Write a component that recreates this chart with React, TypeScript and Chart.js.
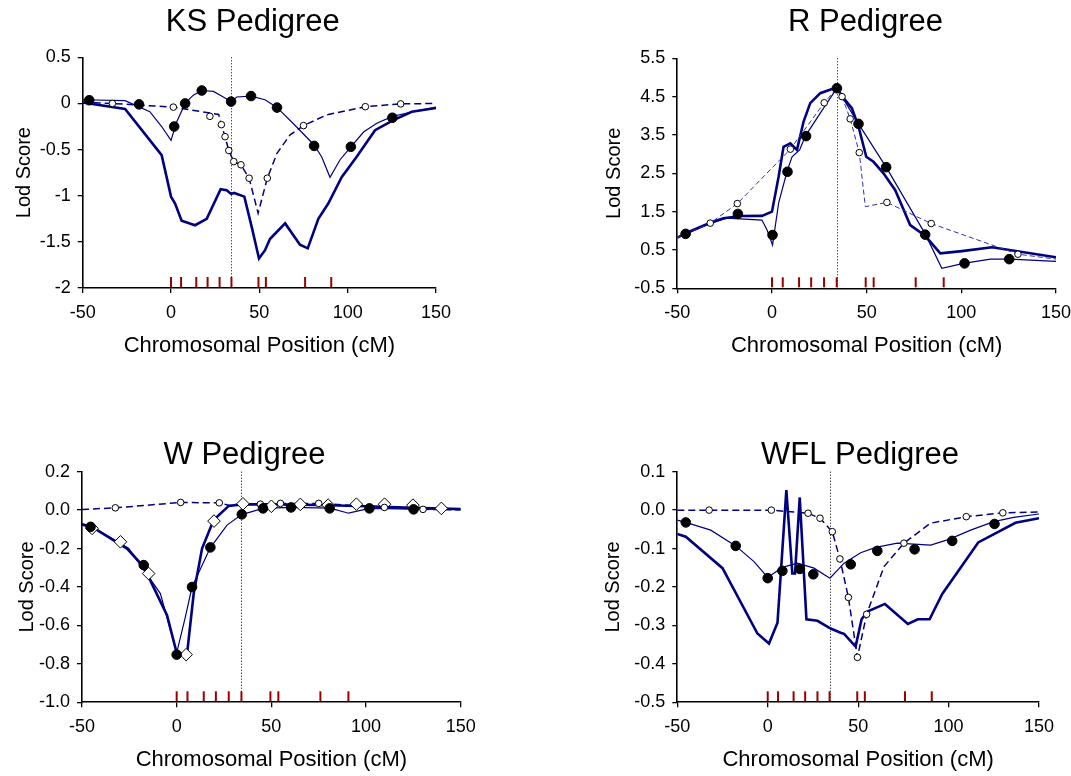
import React, { useEffect, useRef } from "react";
import { Chart, registerables } from "chart.js";

Chart.register(...registerables);

const FONT = "'Liberation Sans', Arial, Helvetica, sans-serif";
const NAVY = "#000080";

// ---------- shared ----------
const markerPositions = [0, 5.7, 14.3, 20.7, 27.5, 34.2, 49.5, 53.7, 75.9, 90.7];
const peakPosition = 34.2;

// ---------- KS pedigree ----------
const ksThickPos = [-50, -26, -5.3, 0, 2.3, 6, 13.6, 20.2, 28.1, 31.5, 34, 35.7, 41.5, 45.7, 49.8, 53.2, 56, 64.6, 73, 77.4, 83.4, 89, 96.6, 105, 115.5, 125.9, 136.3, 150];
const ksThickLod = [0.01, -0.06, -0.56, -1.01, -1.085, -1.27, -1.32, -1.25, -0.93, -0.94, -0.98, -0.97, -1.01, -1.34, -1.68, -1.59, -1.47, -1.3, -1.53, -1.57, -1.25, -1.085, -0.8, -0.58, -0.29, -0.18, -0.09, -0.05];
const ksThinPos = [-50, -26, -12, -5.3, 0, 3.2, 8, 12.6, 17.4, 24, 29.6, 34, 37.2, 45.3, 53.2, 59.8, 69.3, 81, 85.3, 90, 95.7, 101.8, 109, 116.5, 125.3, 137, 150];
const ksThinLod = [0.04, 0.03, -0.09, -0.25, -0.4, -0.2, 0.0, 0.09, 0.14, 0.13, 0.07, 0.02, 0.07, 0.08, 0.04, -0.04, -0.22, -0.45, -0.58, -0.8, -0.61, -0.47, -0.31, -0.215, -0.14, -0.09, -0.04];
const ksFilledPos = [-46.3, -18.1, 1.8, 8, 17.4, 34, 45.3, 60, 81, 101.8, 125.3];
const ksFilledLod = [0.035, -0.01, -0.25, 0.0, 0.14, 0.02, 0.08, -0.045, -0.46, -0.47, -0.155];
const ksOpenPos = [-33.2, 1.3, 22, 28.5, 30.6, 32.7, 35.5, 39.6, 44.2, 54.5, 75, 110, 130];
const ksOpenLod = [0, -0.04, -0.14, -0.23, -0.36, -0.51, -0.63, -0.665, -0.81, -0.81, -0.24, -0.035, -0.005];
const ksDashPos = [-50, -33.2, 1.3, 27, 28.5, 30.6, 32.7, 35.5, 39.6, 44.2, 49.3, 54.5, 60, 67.4, 75, 88, 110, 130, 150];
const ksDashLod = [0.01, 0, -0.04, -0.12, -0.23, -0.36, -0.51, -0.63, -0.665, -0.81, -1.19, -0.81, -0.54, -0.34, -0.24, -0.125, -0.035, -0.005, 0];

// ---------- R pedigree ----------
const rThickPos = [-50, -45.6, -32.6, -25.6, -16.7, -5.3, 0, 3.5, 6.1, 9.7, 13.2, 16.7, 20.2, 25.5, 31.7, 34.3, 37.8, 42.2, 45.7, 49.8, 53.6, 58.9, 65.1, 73, 80.9, 88.9, 100.3, 116.2, 150];
const rThickLod = [0.82, 0.935, 1.21, 1.33, 1.386, 1.39, 1.5, 2.41, 3.19, 3.28, 3.11, 3.85, 4.33, 4.59, 4.7, 4.72, 4.46, 4.2, 3.72, 2.93, 2.8, 2.5, 2.06, 1.15, 0.87, 0.41, 0.47, 0.57, 0.31];
const rThinPos = [-50, -32.6, -23.8, -5.3, -2.6, 0.3, 3.5, 7.9, 10.6, 14.6, 17.6, 25.5, 34.3, 45.7, 60.3, 80.9, 89.7, 101.2, 115.3, 125.8, 150];
const rThinLod = [0.82, 1.19, 1.33, 1.28, 1.02, 0.63, 1.72, 2.54, 2.93, 3.11, 3.47, 4.07, 4.72, 3.79, 2.66, 0.92, 0.02, 0.15, 0.26, 0.26, 0.2];
const rFilledPos = [-45.6, -18, 0.3, 8.2, 18, 34.3, 45.7, 60.3, 80.9, 101.7, 125.3];
const rFilledLod = [0.92, 1.44, 0.89, 2.54, 3.47, 4.72, 3.79, 2.66, 0.9, 0.15, 0.26];
const rOpenPos = [-32.6, -18.3, 9.7, 27.6, 37, 41.3, 46.1, 60.7, 84.1, 129.9];
const rOpenLod = [1.2, 1.71, 3.13, 4.34, 4.5, 3.92, 3.04, 1.74, 1.19, 0.39];
const rDashPos = [-50, -32.6, -18.3, 9.7, 27.6, 34.3, 37, 41.3, 46.1, 49.3, 60.7, 84.1, 129.9, 150];
const rDashLod = [0.82, 1.2, 1.71, 3.13, 4.34, 4.72, 4.5, 3.92, 3.04, 1.63, 1.74, 1.19, 0.39, 0.26];

// ---------- W pedigree ----------
const wThickPos = [-50, -44.7, -26.2, -17.4, -5.1, 0, 2, 5.5, 9, 13.4, 19.5, 27.5, 34.3, 50, 75, 100, 125, 150];
const wThickLod = [-0.075, -0.087, -0.2, -0.295, -0.547, -0.743, -0.746, -0.746, -0.434, -0.2, -0.052, 0.022, 0.03, 0.03, 0.027, 0.02, 0.012, 0.005];
const wThinPos = [-50, -44.7, -25.3, -8.6, 0, 4.6, 8.1, 17.8, 26.6, 34.3, 45.6, 60.4, 81, 90.8, 101.7, 125, 150];
const wThinLod = [-0.07, -0.085, -0.2, -0.434, -0.743, -0.556, -0.4, -0.195, -0.078, -0.023, 0.009, 0.014, 0.01, -0.016, 0.009, 0.005, 0.005];
const wFilledPos = [-45.5, -17.4, 0, 8.1, 17.8, 34.4, 45.6, 60.4, 80.8, 101.8, 125.1];
const wFilledLod = [-0.087, -0.286, -0.752, -0.4, -0.194, -0.022, 0.009, 0.014, 0.009, 0.009, 0.004];
const wDiamondPos = [-44.7, -29.7, -14.8, 5, 19.7, 35, 50, 65.3, 80, 94.9, 109.8, 124.8, 139.8];
const wDiamondLod = [-0.095, -0.165, -0.33, -0.752, -0.057, 0.033, 0.02, 0.03, 0.026, 0.031, 0.031, 0.026, 0.009];
const wOpenPos = [-32.4, 2.1, 22.5, 44.2, 54.8, 75, 109.7, 130.1];
const wOpenLod = [0.012, 0.04, 0.038, 0.031, 0.035, 0.035, 0.014, 0.004];
const wDashPos = [-50, -32.4, 2.1, 22.5, 28, 34.3, 44.2, 54.8, 75, 109.7, 130.1, 150];
const wDashLod = [0.003, 0.012, 0.04, 0.038, 0.024, 0.033, 0.031, 0.035, 0.035, 0.014, 0.004, 0.002];

// ---------- WFL pedigree ----------
const wflThickPos = [-50, -45.3, -25, -5.7, 0.7, 5.4, 10.3, 13.6, 15.1, 17.7, 21.4, 27.5, 34.8, 40.3, 42.2, 48.6, 51.9, 55.1, 64.8, 77.5, 83, 89.5, 96.5, 116.4, 137, 150];
const wflThickLod = [-0.062, -0.069, -0.151, -0.321, -0.347, -0.293, 0.052, -0.165, -0.165, 0.033, -0.284, -0.288, -0.308, -0.319, -0.322, -0.355, -0.284, -0.264, -0.244, -0.296, -0.284, -0.284, -0.218, -0.084, -0.033, -0.021];
const wflThinPos = [-50, -45.3, -31.5, -17.7, -7.6, 0, 8.1, 16.4, 25.6, 34.4, 42.2, 51.4, 59.7, 71.7, 90.1, 100.2, 112.2, 125, 136, 150];
const wflThinLod = [-0.026, -0.032, -0.052, -0.093, -0.134, -0.175, -0.149, -0.138, -0.151, -0.177, -0.138, -0.111, -0.097, -0.086, -0.091, -0.076, -0.052, -0.03, -0.019, -0.01];
const wflFilledPos = [-45.3, -17.7, 0, 8.1, 17.8, 25.2, 45.9, 60.6, 81.2, 102, 125.4];
const wflFilledLod = [-0.032, -0.093, -0.177, -0.158, -0.153, -0.167, -0.141, -0.106, -0.102, -0.08, -0.036];
const wflOpenPos = [-32.4, 2, 22.3, 28.9, 35.7, 39.9, 44.6, 49.6, 54.7, 75.3, 109.8, 130];
const wflOpenLod = [0.0, 0.0, -0.008, -0.021, -0.056, -0.127, -0.227, -0.383, -0.271, -0.086, -0.017, -0.007];
const wflDashPos = [-50, -32.4, 2, 22.3, 28.9, 35.7, 39.9, 44.6, 49.6, 54.7, 64.3, 75.3, 90, 109.8, 130, 150];
const wflDashLod = [0.0, 0.0, 0.0, -0.008, -0.021, -0.056, -0.127, -0.227, -0.383, -0.271, -0.147, -0.086, -0.034, -0.017, -0.007, -0.005];

const pts = (xs: number[], ys: number[]) => xs.map((x, i) => ({ x, y: ys[i] }));

const filledStyle = { showLine: false, pointStyle: "circle", pointRadius: 4.8, backgroundColor: "#000", borderColor: "#000", borderWidth: 1 };
const openStyle = { showLine: false, pointStyle: "circle", pointRadius: 3.3, backgroundColor: "#fff", borderColor: "#000", borderWidth: 1 };
const diamondStyle = { showLine: false, pointStyle: "rectRot", pointRadius: 6.3, backgroundColor: "#fff", borderColor: "#000", borderWidth: 1 };
const thickStyle = { showLine: true, pointRadius: 0, borderColor: NAVY, borderWidth: 2.6, tension: 0, backgroundColor: NAVY };
const thinStyle = { showLine: true, pointRadius: 0, borderColor: NAVY, borderWidth: 1.2, tension: 0, backgroundColor: NAVY };
const dashStyle = { showLine: true, pointRadius: 0, borderColor: NAVY, borderWidth: 1.5, borderDash: [7, 4], tension: 0, backgroundColor: NAVY };
const lightDashStyle = { showLine: true, pointRadius: 0, borderColor: "#3030b0", borderWidth: 1, borderDash: [5, 3], tension: 0, backgroundColor: NAVY };

const overlayPlugin = {
  id: "overlay",
  beforeDatasetsDraw(chart: any, _a: any, opts: any) {
    const { ctx, chartArea, scales } = chart;
    const x = Math.round(scales.x.getPixelForValue(opts.peak)) + 0.5;
    ctx.save();
    ctx.strokeStyle = "#000";
    ctx.lineWidth = 1;
    ctx.setLineDash([1, 2]);
    ctx.beginPath();
    ctx.moveTo(x, chartArea.top);
    ctx.lineTo(x, chartArea.bottom);
    ctx.stroke();
    ctx.restore();
  },
  afterDatasetsDraw(chart: any, _a: any, opts: any) {
    const { ctx, chartArea, scales } = chart;
    ctx.save();
    ctx.strokeStyle = "#990000";
    ctx.lineWidth = 2;
    for (const m of opts.markers) {
      const x = scales.x.getPixelForValue(m);
      ctx.beginPath();
      ctx.moveTo(x, chartArea.bottom - 1);
      ctx.lineTo(x, chartArea.bottom - 11);
      ctx.stroke();
    }
    ctx.restore();
  },
  afterDraw(chart: any, _a: any, opts: any) {
    const { ctx } = chart;
    ctx.save();
    ctx.fillStyle = "#000";
    ctx.font = `31px ${FONT}`;
    ctx.textAlign = "center";
    ctx.textBaseline = "alphabetic";
    ctx.fillText(opts.title, opts.titleX, opts.titleY);
    ctx.restore();
  },
};

type Panel = {
  key: string;
  title: string;
  left: number; top: number; width: number; height: number;
  area: { L: number; R: number; T: number; B: number };
  wy: number;
  titleX: number; titleY: number;
  yMin: number; yMax: number; yStep: number; yFixed: boolean;
  datasets: any[];
};

const HX = 72;

const panels: Panel[] = [
  {
    key: "ks", title: "KS Pedigree", left: 0, top: 0, width: 535, height: 388,
    area: { L: 82.7, R: 436, T: 57.3, B: 288 }, wy: 70.7, titleX: 252.8, titleY: 30.7,
    yMin: -2, yMax: 0.5, yStep: 0.5, yFixed: false,
    datasets: [
      { ...filledStyle, data: pts(ksFilledPos, ksFilledLod) },
      { ...openStyle, data: pts(ksOpenPos, ksOpenLod) },
      { ...dashStyle, data: pts(ksDashPos, ksDashLod) },
      { ...thinStyle, data: pts(ksThinPos, ksThinLod) },
      { ...thickStyle, data: pts(ksThickPos, ksThickLod) },
    ],
  },
  {
    key: "r", title: "R Pedigree", left: 535, top: 0, width: 536, height: 388,
    area: { L: 677.3, R: 1056, T: 58.3, B: 288.3 }, wy: 75, titleX: 865.5, titleY: 30.7,
    yMin: -0.5, yMax: 5.5, yStep: 1, yFixed: false,
    datasets: [
      { ...filledStyle, data: pts(rFilledPos, rFilledLod) },
      { ...openStyle, data: pts(rOpenPos, rOpenLod) },
      { ...lightDashStyle, data: pts(rDashPos, rDashLod) },
      { ...thinStyle, data: pts(rThinPos, rThinLod) },
      { ...thickStyle, data: pts(rThickPos, rThickLod) },
    ],
  },
  {
    key: "w", title: "W Pedigree", left: 0, top: 388, width: 535, height: 388,
    area: { L: 82, R: 460.7, T: 471.7, B: 702.3 }, wy: 67, titleX: 244.5, titleY: 463.5,
    yMin: -1, yMax: 0.2, yStep: 0.2, yFixed: true,
    datasets: [
      { ...filledStyle, data: pts(wFilledPos, wFilledLod) },
      { ...openStyle, data: pts(wOpenPos, wOpenLod) },
      { ...diamondStyle, data: pts(wDiamondPos, wDiamondLod) },
      { ...dashStyle, data: pts(wDashPos, wDashLod) },
      { ...thinStyle, data: pts(wThinPos, wThinLod) },
      { ...thickStyle, data: pts(wThickPos, wThickLod) },
    ],
  },
  {
    key: "wfl", title: "WFL Pedigree", left: 535, top: 388, width: 536, height: 388,
    area: { L: 677.3, R: 1039, T: 471.7, B: 702.3 }, wy: 76, titleX: 860, titleY: 463.5,
    yMin: -0.5, yMax: 0.1, yStep: 0.1, yFixed: true,
    datasets: [
      { ...filledStyle, data: pts(wflFilledPos, wflFilledLod) },
      { ...openStyle, data: pts(wflOpenPos, wflOpenLod) },
      { ...dashStyle, data: pts(wflDashPos, wflDashLod) },
      { ...thinStyle, data: pts(wflThinPos, wflThinLod) },
      { ...thickStyle, data: pts(wflThickPos, wflThickLod) },
    ],
  },
];

function PanelChart({ p }: { p: Panel }) {
  const ref = useRef<HTMLCanvasElement | null>(null);
  useEffect(() => {
    if (!ref.current) return;
    const padLeft = p.area.L - p.left - p.wy;
    const padRight = p.left + p.width - p.area.R;
    const padTop = p.area.T - p.top;
    const padBottom = p.top + p.height - p.area.B - HX;
    const tickFont = { family: FONT, size: 18 };
    const chart = new Chart(ref.current, {
      type: "scatter",
      data: { datasets: p.datasets },
      plugins: [overlayPlugin as any],
      options: {
        animation: false,
        responsive: false,
        events: [],
        layout: { padding: { left: padLeft, right: padRight, top: padTop, bottom: padBottom } },
        plugins: {
          legend: { display: false },
          tooltip: { enabled: false },
          title: { display: false },
          overlay: {
            peak: peakPosition,
            markers: markerPositions,
            title: p.title,
            titleX: p.titleX - p.left,
            titleY: p.titleY - p.top,
          },
        } as any,
        scales: {
          x: {
            type: "linear",
            min: -50,
            max: 150,
            ticks: { stepSize: 50, font: tickFont, color: "#000", padding: 9, maxRotation: 0, autoSkip: false },
            grid: { drawOnChartArea: false, drawTicks: true, tickLength: 5, color: "#000", lineWidth: 1.3 },
            border: { display: true, color: "#000", width: 1.6 },
            title: {
              display: true,
              text: "Chromosomal Position (cM)",
              font: { family: FONT, size: 22 },
              color: "#000",
              padding: { top: 0, bottom: 0.8 },
            },
            afterFit: (s: any) => {
              s.height = HX;
              s.paddingLeft = 0;
              s.paddingRight = 0;
            },
          },
          y: {
            type: "linear",
            min: p.yMin,
            max: p.yMax,
            ticks: {
              stepSize: p.yStep,
              font: tickFont,
              color: "#000",
              padding: 7,
              autoSkip: false,
              callback: (v: any) => {
                const n = Number(v);
                if (p.yFixed) return Math.abs(n) < 1e-9 ? "0.0" : n.toFixed(1);
                const r = Math.round(n * 10) / 10;
                return String(Object.is(r, -0) ? 0 : r);
              },
            },
            grid: { drawOnChartArea: false, drawTicks: true, tickLength: 5, color: "#000", lineWidth: 1.3 },
            border: { display: true, color: "#000", width: 1.6 },
            title: {
              display: true,
              text: "Lod Score",
              font: { family: FONT, size: 20 },
              color: "#000",
              padding: { top: 0, bottom: 0 },
            },
            afterFit: (s: any) => {
              s.width = p.wy;
              s.paddingTop = 0;
              s.paddingBottom = 0;
            },
          },
        },
      } as any,
    });
    return () => chart.destroy();
  }, [p]);
  return (
    <canvas
      ref={ref}
      width={p.width}
      height={p.height}
      style={{ position: "absolute", left: p.left, top: p.top, width: p.width, height: p.height, display: "block" }}
    />
  );
}

export default function App() {
  return (
    <div style={{ position: "absolute", left: 0, top: 0, width: 1071, height: 776, overflow: "hidden", background: "#fff" }}>
      {panels.map((p) => (
        <PanelChart key={p.key} p={p} />
      ))}
    </div>
  );
}
